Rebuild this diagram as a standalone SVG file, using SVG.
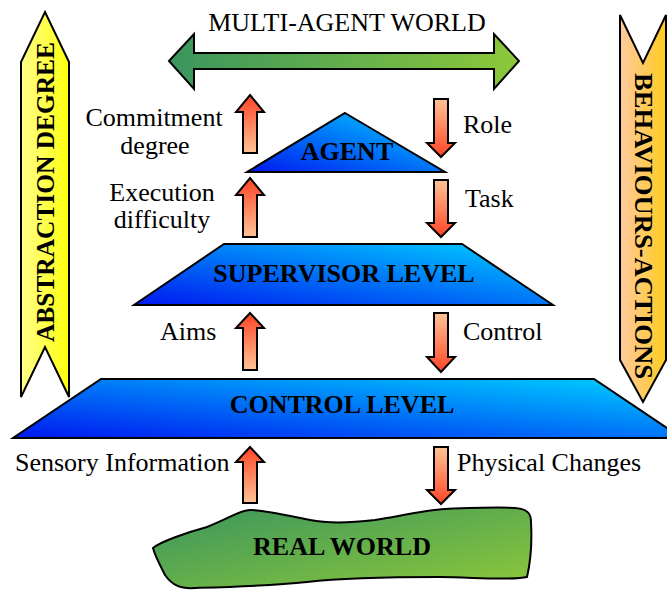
<svg xmlns="http://www.w3.org/2000/svg" width="667" height="592" viewBox="0 0 667 592">
<defs>
<linearGradient id="gBlue" x1="0" y1="1" x2="1" y2="0">
<stop offset="0" stop-color="#0018f0"/><stop offset="1" stop-color="#00d2ff"/>
</linearGradient>
<linearGradient id="gGreen" x1="0" y1="0" x2="1" y2="1">
<stop offset="0" stop-color="#3a955e"/><stop offset="1" stop-color="#8dc83a"/>
</linearGradient>
<linearGradient id="gGreenH" x1="0" y1="0" x2="1" y2="0">
<stop offset="0" stop-color="#3a955e"/><stop offset="1" stop-color="#8dc83a"/>
</linearGradient>
<linearGradient id="gYellow" x1="0" y1="0" x2="1" y2="0">
<stop offset="0" stop-color="#ffff8a"/><stop offset="1" stop-color="#ffff10"/>
</linearGradient>
<linearGradient id="gOrange" x1="0" y1="0" x2="1" y2="0">
<stop offset="0" stop-color="#ffc9a0"/><stop offset="1" stop-color="#ffcc20"/>
</linearGradient>
<linearGradient id="gUp" x1="0" y1="1" x2="0" y2="0">
<stop offset="0" stop-color="#ffc495"/><stop offset="1" stop-color="#ff4426"/>
</linearGradient>
<linearGradient id="gDown" x1="0" y1="0" x2="0" y2="1">
<stop offset="0" stop-color="#ffc495"/><stop offset="1" stop-color="#ff4426"/>
</linearGradient>
</defs>
<style>
.t{font-family:"Liberation Serif","Times New Roman",serif;font-size:26px;fill:#000}
.b{font-weight:bold}
.m{text-anchor:middle}
.sh{stroke:#000;stroke-width:2;stroke-linejoin:miter}
.up{fill:url(#gUp);stroke:#000;stroke-width:2}
.dn{fill:url(#gDown);stroke:#000;stroke-width:2}
</style>

<g id="abstraction-degree">
<polygon class="sh" fill="url(#gYellow)" points="45,12 69,62 69,397 45,347 21,397 21,62"/>
<text class="t b m" transform="translate(54,192) rotate(-90)" textLength="300" lengthAdjust="spacingAndGlyphs">ABSTRACTION DEGREE</text>
</g>

<g id="behaviours-actions">
<polygon class="sh" fill="url(#gOrange)" points="620,15 643,63 666,15 666,360 643,402 620,360"/>
<text class="t b m" transform="translate(635,226) rotate(90)" textLength="306" lengthAdjust="spacingAndGlyphs">BEHAVIOURS-ACTIONS</text>
</g>

<g id="multi-agent-world">
<text class="t m" x="347" y="31">MULTI-AGENT WORLD</text>
<polygon class="sh" fill="url(#gGreenH)" points="169,61 194,34 194,53 494,53 494,34 519,61 494,89 494,69 194,69 194,89"/>
</g>

<g id="agent">
<polygon class="sh" fill="url(#gBlue)" points="345,113 445,172 247,172"/>
<text class="t b m" x="347" y="160">AGENT</text>
</g>

<g id="supervisor-level">
<polygon class="sh" fill="url(#gBlue)" points="224,244 462,244 553,305 134,305"/>
<text class="t b m" x="344" y="282">SUPERVISOR LEVEL</text>
</g>

<g id="control-level">
<polygon class="sh" fill="url(#gBlue)" points="101,379 594,379 682,438 13,438"/>
<text class="t b m" x="342" y="413">CONTROL LEVEL</text>
</g>

<g id="real-world">
<path class="sh" fill="url(#gGreen)" d="M153,548 C160,542 185,533 207,527 C230,518 240,510 250,510 C265,510 290,516 310,520 C330,524 350,523 375,520 C400,516 425,510 445,509 C470,508 500,507 515,508 C528,509 531,514 531,522 C532,540 531,560 527,577 C510,581 470,577 440,577 C400,577 350,577 307,582 C270,586 230,587 195,588 C180,589 172,585 165,575 C160,565 155,556 153,548 Z"/>
<text class="t b m" x="342" y="555">REAL WORLD</text>
</g>

<g id="connectors">
<path class="up" d="M250,95 L264,112 L257,112 L257,153 L243,153 L243,112 L236,112 Z"/>
<path class="up" d="M250,178 L264,195 L257,195 L257,237 L243,237 L243,195 L236,195 Z"/>
<path class="up" d="M250,313 L264,328 L257,328 L257,370 L243,370 L243,328 L236,328 Z"/>
<path class="up" d="M250,447 L264,462 L257,462 L257,503 L243,503 L243,462 L236,462 Z"/>
<path class="dn" d="M434,99 L448,99 L448,143 L455,143 L441,157 L427,143 L434,143 Z"/>
<path class="dn" d="M434,180 L448,180 L448,223 L455,223 L441,237 L427,223 L434,223 Z"/>
<path class="dn" d="M434,313 L448,313 L448,357 L455,357 L441,372 L427,357 L434,357 Z"/>
<path class="dn" d="M434,447 L448,447 L448,490 L455,490 L441,504 L427,490 L434,490 Z"/>
</g>

<g id="labels">
<text class="t m" x="154" y="126">Commitment</text>
<text class="t m" x="155" y="154">degree</text>
<text class="t m" x="162" y="201">Execution</text>
<text class="t m" x="162" y="228">difficulty</text>
<text class="t" x="160" y="340">Aims</text>
<text class="t" x="15" y="471">Sensory Information</text>
<text class="t" x="463" y="133">Role</text>
<text class="t" x="465" y="207">Task</text>
<text class="t" x="463" y="340">Control</text>
<text class="t" x="457" y="471">Physical Changes</text>
</g>
</svg>
